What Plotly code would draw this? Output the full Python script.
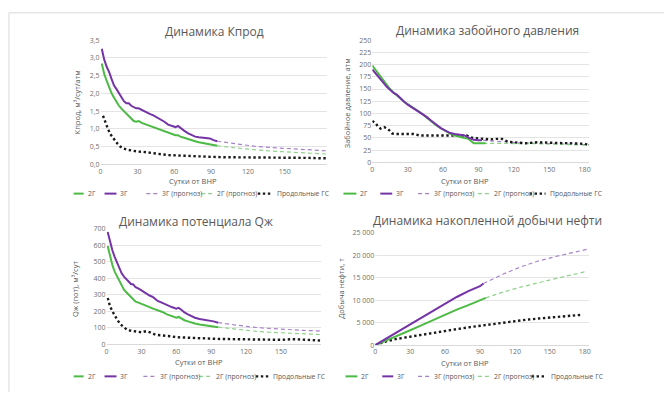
import plotly.graph_objects as go

W, H = 665, 396

# ---------------- DATA ----------------
x_title = "Сутки от ВНР"
legend_names = ["2Г", "3Г", "3Г (прогноз)", "2Г (прогноз)", "Продольные ГС"]

# Panel 1: Кпрод
kp_days = [1, 3, 5, 7, 9, 11, 13, 15, 17, 19, 21, 23, 25, 27, 29, 31, 34, 37, 40, 43, 46, 49, 52, 55, 58, 61, 63, 65, 68, 71, 74, 77, 80, 83, 86, 89, 92, 95]
kp_3g = [3.26, 2.95, 2.75, 2.6, 2.4, 2.22, 2.12, 2.0, 1.92, 1.78, 1.72, 1.72, 1.65, 1.62, 1.58, 1.58, 1.52, 1.47, 1.42, 1.38, 1.32, 1.28, 1.2, 1.12, 1.08, 1.05, 1.08, 1.02, 0.95, 0.88, 0.82, 0.78, 0.76, 0.75, 0.74, 0.73, 0.68, 0.65]
kp_2g = [2.84, 2.55, 2.35, 2.15, 2.0, 1.88, 1.75, 1.65, 1.57, 1.5, 1.43, 1.37, 1.3, 1.22, 1.2, 1.22, 1.16, 1.12, 1.08, 1.05, 1.02, 0.98, 0.94, 0.9, 0.85, 0.82, 0.82, 0.78, 0.75, 0.71, 0.68, 0.65, 0.62, 0.6, 0.58, 0.56, 0.54, 0.52]
kp_fc_days = [95, 110, 125, 140, 155, 170, 184]
kp_3g_fc = [0.65, 0.57, 0.51, 0.47, 0.44, 0.41, 0.38]
kp_2g_fc = [0.52, 0.46, 0.41, 0.37, 0.34, 0.31, 0.29]
kp_gs_days = [2, 4, 6, 8, 10, 12, 14, 16, 19, 22, 26, 30, 35, 40, 45, 50, 55, 60, 70, 80, 90, 100, 110, 120, 130, 140, 150, 160, 170, 180, 184]
kp_gs = [1.37, 1.17, 1.0, 0.85, 0.75, 0.65, 0.57, 0.5, 0.44, 0.41, 0.38, 0.36, 0.35, 0.32, 0.3, 0.28, 0.26, 0.25, 0.24, 0.22, 0.21, 0.2, 0.2, 0.19, 0.18, 0.18, 0.18, 0.2, 0.18, 0.17, 0.17]

# Panel 2: забойное давление
pz_2g_days = [0, 3, 6, 9, 12, 15, 18, 21, 24, 27, 30, 34, 38, 42, 46, 50, 54, 58, 62, 66, 70, 74, 78, 81, 84, 86, 90, 93, 96]
pz_2g = [198, 188, 178, 168, 158, 150, 143, 136, 129, 124, 119, 113, 107, 100, 92, 84, 76, 70, 64, 59, 55, 52, 50, 49, 44, 39, 39, 39, 39]
pz_3g_days = [0, 3, 6, 9, 12, 15, 18, 21, 24, 27, 30, 34, 38, 42, 46, 50, 54, 58, 62, 66, 70, 74, 78, 82, 86, 90, 93]
pz_3g = [190, 182, 173, 164, 155, 148, 142, 138, 130, 124, 118, 112, 106, 100, 93, 85, 77, 70, 65, 60, 58, 57, 55, 50, 46, 45, 45]
pz_fc_days = [94, 110, 125, 140, 155, 170, 184]
pz_3g_fc = [45, 42, 40, 39, 38, 37, 36]
pz_2g_fc = [39, 39, 38, 38, 37, 36, 35]
pz_gs_days = [0, 3, 5, 7, 10, 13, 17, 20, 25, 30, 35, 40, 45, 50, 55, 60, 65, 70, 75, 80, 85, 90, 95, 100, 105, 110, 115, 120, 130, 140, 150, 160, 170, 180, 184]
pz_gs = [85, 79, 73, 69, 72, 69, 59, 58, 58, 58, 58, 55, 55, 55, 55, 54, 54, 54, 55, 55, 50, 49, 48, 47, 48, 48, 42, 41, 39, 41, 40, 40, 39, 38, 35]

# Panel 3: потенциал Qж
qz_days = [1, 3, 5, 7, 9, 11, 13, 15, 17, 19, 21, 23, 25, 28, 31, 34, 37, 40, 44, 48, 52, 56, 60, 62, 64, 67, 70, 73, 76, 80, 84, 88, 92, 96]
qz_3g = [680, 620, 570, 530, 497, 460, 430, 410, 395, 380, 365, 362, 345, 335, 320, 305, 295, 285, 262, 250, 235, 225, 215, 220, 210, 192, 180, 170, 160, 152, 148, 145, 138, 130]
qz_2g = [596, 530, 480, 440, 410, 380, 350, 330, 315, 300, 285, 270, 258, 250, 243, 235, 225, 215, 205, 195, 180, 170, 160, 165, 155, 145, 138, 130, 125, 119, 115, 110, 106, 103]
qz_fc_days = [96, 110, 125, 140, 155, 170, 184]
qz_3g_fc = [130, 115, 103, 95, 88, 83, 80]
qz_2g_fc = [103, 90, 80, 72, 66, 62, 58]
qz_gs_days = [1, 3, 5, 7, 9, 12, 15, 18, 22, 26, 30, 34, 38, 42, 46, 50, 55, 60, 70, 80, 90, 100, 110, 120, 130, 140, 150, 160, 170, 180, 184]
qz_gs = [280, 230, 200, 170, 150, 120, 100, 85, 80, 75, 72, 78, 70, 57, 55, 50, 48, 42, 38, 35, 33, 31, 30, 29, 27, 26, 26, 30, 25, 23, 22]

# Panel 4: накопленная добыча нефти
cum_3g_days = [0, 10, 20, 30, 40, 50, 60, 70, 80, 90, 93]
cum_3g = [0, 1500, 3000, 4550, 6100, 7650, 9200, 10700, 12000, 13100, 13700]
cum_3g_fc_days = [93, 110, 125, 140, 155, 170, 182]
cum_3g_fc = [13700, 15800, 17400, 18700, 19700, 20600, 21300]
cum_2g_days = [0, 10, 20, 30, 40, 50, 60, 70, 80, 90, 95]
cum_2g = [0, 1050, 2150, 3300, 4450, 5600, 6800, 7900, 8900, 9900, 10500]
cum_2g_fc_days = [95, 110, 125, 140, 155, 170, 182]
cum_2g_fc = [10500, 11800, 12900, 13900, 14800, 15700, 16400]
cum_gs_days = [0, 5, 10, 20, 30, 40, 50, 60, 70, 80, 90, 100, 110, 120, 130, 140, 150, 160, 170, 178]
cum_gs = [0, 500, 900, 1450, 1900, 2350, 2750, 3150, 3550, 3950, 4300, 4700, 5000, 5350, 5650, 5900, 6150, 6400, 6600, 6750]

# tick labels
kp_ticks = [0, 0.5, 1.0, 1.5, 2.0, 2.5, 3.0, 3.5]
kp_ticktext = ["0,0", "0,5", "1,0", "1,5", "2,0", "2,5", "3,0", "3,5"]
pz_ticks = [0, 25, 50, 75, 100, 125, 150, 175, 200, 225, 250]
qz_ticks = [0, 100, 200, 300, 400, 500, 600, 700]
cum_ticks = [0, 5000, 10000, 15000, 20000, 25000]
cum_ticktext = ["0", "5 000", "10 000", "15 000", "20 000", "25 000"]
x_ticks_short = [0, 30, 60, 90, 120, 150]
x_ticks_long = [0, 30, 60, 90, 120, 150, 180]

titles = ["Динамика Кпрод", "Динамика забойного давления", "Динамика потенциала Qж", "Динамика накопленной добычи нефти"]
y_titles = ["Кпрод, м³/сут/атм", "Забойное давление, атм", "Qж (пот), м³/сут", "Добыча нефти, т"]

# ---------------- STYLE ----------------
GREEN = "#4DBA45"
PURPLE = "#7434A6"
GREEN_FC = "#8FD28A"
PURPLE_FC = "#A683C9"
BLACK = "#1a1a1a"
FONT = "Open Sans"


def px(x):
    return x / W


def py(y):
    return 1 - y / H


fig = go.Figure()

panels = [
    dict(xd=(99, 326), yd=(163, 36), yr=(0, 3.5), yt=kp_ticks, ytt=kp_ticktext, xt=x_ticks_short,
         series=[(kp_days, kp_2g), (kp_days, kp_3g), (kp_fc_days, kp_3g_fc), (kp_fc_days, kp_2g_fc), (kp_gs_days, kp_gs)],
         title=(213, 27), xtitle=(192, 180), ytitle=(75, 100), leg_y=193,
         leg=[(72, 82, 84), (103, 115, 117), (145, 157, 159), (200, 212, 214), (257, 271, 274)]),
    dict(xd=(372, 590), yd=(161, 36), yr=(0, 250), yt=pz_ticks, ytt=[str(v) for v in pz_ticks], xt=x_ticks_long,
         series=[(pz_2g_days, pz_2g), (pz_3g_days, pz_3g), (pz_fc_days, pz_3g_fc), (pz_fc_days, pz_2g_fc), (pz_gs_days, pz_gs)],
         title=(488, 26), xtitle=(465, 180), ytitle=(346, 100), leg_y=193,
         leg=[(343, 356, 358), (380, 392, 394), (418, 430, 432), (478, 490, 492), (530, 546, 548)]),
    dict(xd=(105, 320), yd=(347, 229), yr=(0, 700), yt=qz_ticks, ytt=[str(v) for v in qz_ticks], xt=x_ticks_short,
         series=[(qz_days, qz_2g), (qz_days, qz_3g), (qz_fc_days, qz_3g_fc), (qz_fc_days, qz_2g_fc), (qz_gs_days, qz_gs)],
         title=(195, 222), xtitle=(198, 365), ytitle=(74, 290), leg_y=380,
         leg=[(72, 82, 84), (103, 115, 117), (142, 155, 157), (198, 211, 213), (255, 268, 270)]),
    dict(xd=(375, 590), yd=(348, 233), yr=(0, 25000), yt=cum_ticks, ytt=cum_ticktext, xt=x_ticks_long,
         series=[(cum_2g_days, cum_2g), (cum_3g_days, cum_3g), (cum_3g_fc_days, cum_3g_fc), (cum_2g_fc_days, cum_2g_fc), (cum_gs_days, cum_gs)],
         title=(488, 221), xtitle=(465, 366), ytitle=(341, 290), leg_y=380,
         leg=[(345, 357, 359), (382, 393, 395), (418, 430, 432), (478, 490, 492), (532, 547, 549)]),
]

styles = [
    dict(color=GREEN, width=2, dash="solid"),
    dict(color=PURPLE, width=2, dash="solid"),
    dict(color=PURPLE_FC, width=1.2, dash="4px,3px"),
    dict(color=GREEN_FC, width=1.2, dash="4px,3px"),
    dict(color=BLACK, width=2.4, dash="2.4px,2.6px"),
]

layout = {}
annotations = []
shapes = []

for i, p in enumerate(panels, start=1):
    sfx = "" if i == 1 else str(i)
    xa, ya = "x" + sfx, "y" + sfx
    # draw order: forecasts, black, then actuals on top
    order = [2, 3, 4, 0, 1]
    for k in order:
        xs, ys = p["series"][k]
        fig.add_trace(go.Scatter(x=xs, y=ys, mode="lines", name=legend_names[k],
                                 line=dict(**styles[k]), xaxis=xa, yaxis=ya,
                                 showlegend=False))
    layout["xaxis" + sfx] = dict(
        domain=[px(p["xd"][0]), px(p["xd"][1])], range=[0, 184], anchor=ya,
        tickvals=p["xt"], showgrid=False, zeroline=False, showline=True,
        linecolor="#D9D9D9", linewidth=1, ticks="", tickfont=dict(size=7, color="#6f6f6f", family=FONT),
        fixedrange=True)
    layout["yaxis" + sfx] = dict(
        domain=[py(p["yd"][0]), py(p["yd"][1])], range=list(p["yr"]), anchor=xa,
        tickvals=p["yt"], ticktext=p["ytt"], showgrid=True, gridcolor="#E4E4E4", gridwidth=1,
        zeroline=False, showline=False, ticks="", tickfont=dict(size=7, color="#6f6f6f", family=FONT),
        fixedrange=True)

    annotations.append(dict(text=titles[i - 1], x=px(p["title"][0]), y=py(p["title"][1]), xref="paper", yref="paper",
                            showarrow=False, xanchor="center", yanchor="middle",
                            font=dict(size=12, color="#595959", family=FONT)))
    annotations.append(dict(text=x_title, x=px(p["xtitle"][0]), y=py(p["xtitle"][1]), xref="paper", yref="paper",
                            showarrow=False, xanchor="center", yanchor="middle",
                            font=dict(size=7.5, color="#595959", family=FONT)))
    annotations.append(dict(text=y_titles[i - 1], x=px(p["ytitle"][0]), y=py(p["ytitle"][1]), xref="paper", yref="paper",
                            showarrow=False, xanchor="center", yanchor="middle", textangle=-90,
                            font=dict(size=7.5, color="#595959", family=FONT)))
    # custom legend
    ly = py(p["leg_y"])
    for k, (x0, x1, xt) in enumerate(p["leg"]):
        st = styles[k]
        shapes.append(dict(type="line", xref="paper", yref="paper", x0=px(x0), x1=px(x1), y0=ly, y1=ly,
                           line=dict(color=st["color"], width=st["width"], dash=st["dash"])))
        annotations.append(dict(text=legend_names[k], x=px(xt), y=ly, xref="paper", yref="paper",
                                showarrow=False, xanchor="left", yanchor="middle",
                                font=dict(size=6.8, color="#595959", family=FONT)))

# outer frame (left and top edges visible in the reference)
shapes.append(dict(type="line", xref="paper", yref="paper", x0=px(7), x1=px(7), y0=py(8), y1=py(396),
                   line=dict(color="#D9D9D9", width=1)))
shapes.append(dict(type="line", xref="paper", yref="paper", x0=px(7), x1=1, y0=py(8), y1=py(8),
                   line=dict(color="#D9D9D9", width=1)))

fig.update_layout(
    width=W, height=H, margin=dict(l=0, r=0, t=0, b=0),
    paper_bgcolor="white", plot_bgcolor="white",
    showlegend=False, annotations=annotations, shapes=shapes,
    font=dict(family=FONT),
    **layout)

fig.write_html("out.html", config=dict(displayModeBar=False))
